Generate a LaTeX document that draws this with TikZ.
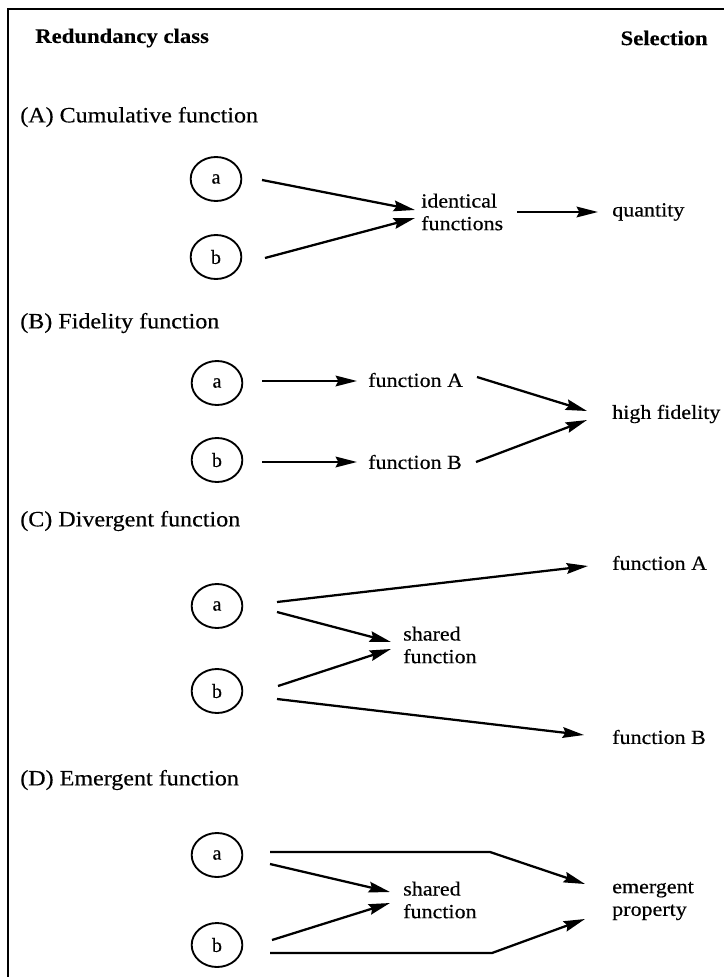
\documentclass[tikz,border=0pt]{standalone}
\usepackage{fontspec}
\usepackage{graphicx}
\setmainfont{Liberation Serif}
\newfontfamily\bodyfont{Liberation Serif}[FakeBold=0.4]
\newfontfamily\headfont{Liberation Serif Bold}[FakeBold=0.3]
\usetikzlibrary{arrows.meta,shapes.geometric}
\newcommand\hs[1]{\scalebox{1.1}[1]{#1}}
\begin{document}
\begin{tikzpicture}[x=0.75pt,y=-0.75pt,
  lab/.style={anchor=west,inner sep=0pt,font=\bodyfont\fontsize{15pt}{17pt}\selectfont,align=left},
  sec/.style={lab,font=\bodyfont\fontsize{16.4pt}{18pt}\selectfont},
  hdr/.style={anchor=west,inner sep=0pt,font=\headfont\fontsize{15.5pt}{17pt}\selectfont},
  ring/.style={draw,ellipse,minimum width=38pt,minimum height=33pt,inner sep=0pt,line width=1.4pt,font=\bodyfont\fontsize{15pt}{16pt}\selectfont},
  arr/.style={line width=1.7pt,-{Stealth[length=16pt,width=8pt,inset=2pt]}},
  frame/.style={line width=1.2pt}]
\useasboundingbox (0,0) rectangle (724,977);
\draw[frame] (8,977) -- (8,9) -- (724,9);
% headers
\node[hdr] (hrc) at (35,38) {\hs{Redundancy class}};
\node[hdr,anchor=east] (hsel) at (708,38) {\hs{Selection}};
% ---------------- A
\node[sec] (tA) at (20,117) {\hs{(A) Cumulative function}};
\node[ring] (Aa) at (216,179) {a};
\node[ring] (Ab) at (216,257) {b};
\node[lab] (Aid) at (421,212) {\hs{identical}\\\hs{functions}};
\node[lab] (Aq) at (612,212) {\hs{quantity}};
\coordinate (Aas) at (262,180); \coordinate (Aat) at (415,210);
\coordinate (Abs) at (265,258); \coordinate (Abt) at (415,218);
\draw[arr] (Aas) -- (Aat);
\draw[arr] (Abs) -- (Abt);
\coordinate (Ais) at (517,212); \coordinate (Ait) at (598,212);
\draw[arr] (Ais) -- (Ait);
% ---------------- B
\node[sec] (tB) at (20,323) {\hs{(B) Fidelity function}};
\node[ring] (Ba) at (217,383) {a};
\node[ring] (Bb) at (217,460) {b};
\node[lab] (BfA) at (368,380) {\hs{function A}};
\node[lab] (BfB) at (368,462) {\hs{function B}};
\node[lab] (Bhf) at (612,414) {\hs{high fidelity}};
\coordinate (Bas) at (262,381); \coordinate (Bat) at (357,381);
\coordinate (Bbs) at (262,462); \coordinate (Bbt) at (357,462);
\draw[arr] (Bas) -- (Bat);
\draw[arr] (Bbs) -- (Bbt);
\coordinate (BAs) at (477,377); \coordinate (BAt) at (587,411);
\coordinate (BBs) at (476,462); \coordinate (BBt) at (587,420);
\draw[arr] (BAs) -- (BAt);
\draw[arr] (BBs) -- (BBt);
% ---------------- C
\node[sec] (tC) at (20,521) {\hs{(C) Divergent function}};
\node[ring] (Ca) at (217,606) {a};
\node[ring] (Cb) at (217,691) {b};
\node[lab] (Csh) at (403,645) {\hs{shared}\\\hs{function}};
\node[lab] (CfA) at (612,563) {\hs{function A}};
\node[lab] (CfB) at (612,737) {\hs{function B}};
\coordinate (Ca1) at (277,602); \coordinate (Ca1t) at (588,566);
\coordinate (Ca2) at (277,612); \coordinate (Ca2t) at (391,642);
\coordinate (Cb1) at (278,686); \coordinate (Cb1t) at (391,649);
\coordinate (Cb2) at (277,699); \coordinate (Cb2t) at (584,735);
\draw[arr] (Ca1) -- (Ca1t);
\draw[arr] (Ca2) -- (Ca2t);
\draw[arr] (Cb1) -- (Cb1t);
\draw[arr] (Cb2) -- (Cb2t);
% ---------------- D
\node[sec] (tD) at (20,780) {\hs{(D) Emergent function}};
\node[ring] (Da) at (217,855) {a};
\node[ring] (Db) at (217,945) {b};
\node[lab] (Dsh) at (403,900) {\hs{shared}\\\hs{function}};
\node[lab] (Dem) at (612,901) {\hs{emergent}\\\hs{property}};
\coordinate (Da1) at (270,852); \coordinate (Da1k) at (490,852); \coordinate (Da1t) at (585,884);
\coordinate (Da2) at (270,864); \coordinate (Da2t) at (390,892);
\coordinate (Db1) at (272,940); \coordinate (Db1t) at (390,903);
\coordinate (Db2) at (270,953); \coordinate (Db2k) at (492,953); \coordinate (Db2t) at (585,919);
\draw[arr] (Da1) -- (Da1k) -- (Da1t);
\draw[arr] (Da2) -- (Da2t);
\draw[arr] (Db1) -- (Db1t);
\draw[arr] (Db2) -- (Db2k) -- (Db2t);
\end{tikzpicture}
\end{document}
